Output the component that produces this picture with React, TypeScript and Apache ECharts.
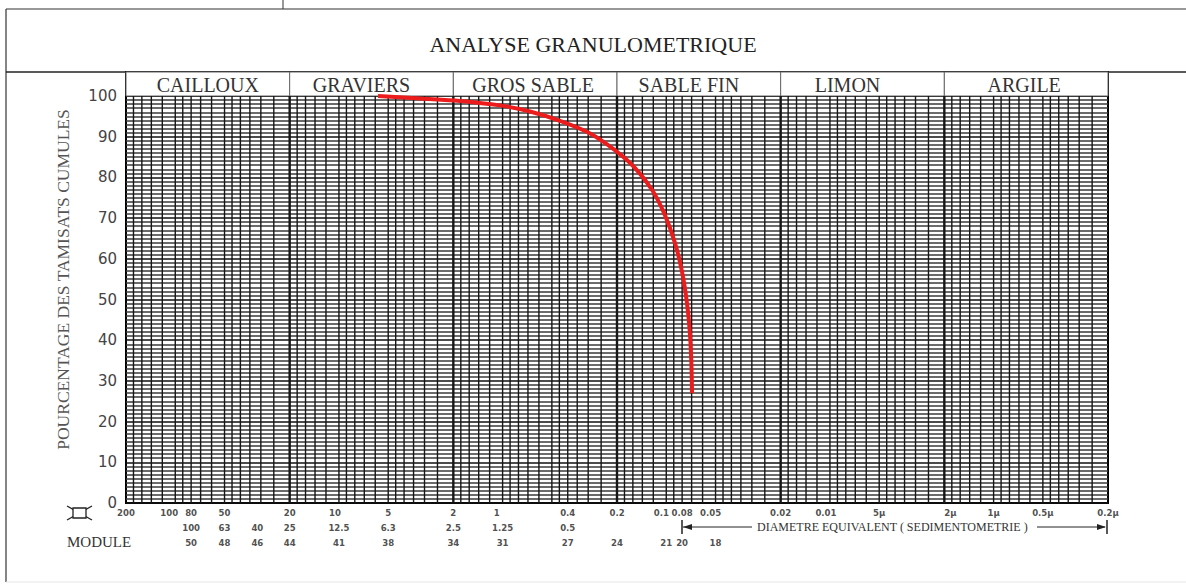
import React, { useEffect, useRef } from "react";
import * as echarts from "echarts";

// ---- data ----
const bandNames = ["CAILLOUX", "GRAVIERS", "GROS SABLE", "SABLE FIN", "LIMON", "ARGILE"];
const bandEdges = [200, 20, 2, 0.2, 0.02, 0.002, 0.0002];

const yTicks = [0, 10, 20, 30, 40, 50, 60, 70, 80, 90, 100];

// sieve sizes (mm) row
const row1Values = [200, 100, 80, 50, 20, 10, 5, 2, 1, 0.4, 0.2, 0.1, 0.08, 0.05, 0.02, 0.01, 0.005, 0.002, 0.001, 0.0005, 0.0002];
const row1Labels = ["200", "100", "80", "50", "20", "10", "5", "2", "1", "0.4", "0.2", "0.1", "0.08", "0.05", "0.02", "0.01", "5µ", "2µ", "1µ", "0.5µ", "0.2µ"];
// passoire row
const row2Values = [80, 50, 31.5, 20, 10, 5, 2, 1, 0.4];
const row2Labels = ["100", "63", "40", "25", "12.5", "6.3", "2.5", "1.25", "0.5"];
// module row
const row3Values = [80, 50, 31.5, 20, 10, 5, 2, 1, 0.4, 0.2, 0.1, 0.08, 0.05];
const row3Labels = ["50", "48", "46", "44", "41", "38", "34", "31", "27", "24", "21", "20", "18"];

// granulometric curve: diameter (mm) / cumulative passing (%)
const curveDiam = [5.77, 3.2, 1.82, 1.04, 0.68, 0.446, 0.292, 0.206, 0.155, 0.122, 0.102, 0.0885, 0.0801, 0.0747, 0.0716, 0.0702, 0.0696];
const curvePct = [100, 99.4, 98.8, 97.7, 96.2, 93.9, 90.8, 86.7, 82.3, 76.9, 70.8, 63.9, 56.8, 49.1, 41.3, 33.9, 27.0];

// log paper grid mantissas
const gridMantissas = [1, 1.2, 1.4, 1.6, 1.8, 2, 2.5, 3, 3.5, 4, 4.5, 5, 6, 7, 8, 9];
const gridDecades = [0.0001, 0.001, 0.01, 0.1, 1, 10, 100];

const SERIF = "'Liberation Serif', 'DejaVu Serif', serif";
const SANS = "'DejaVu Sans', sans-serif";
const NUMFONT = "'DejaVu Sans Condensed', 'DejaVu Sans', sans-serif";

export default function App() {
  const ref = useRef<HTMLDivElement>(null);
  useEffect(() => {
    if (!ref.current) return;
    const chart = echarts.init(ref.current, undefined, { renderer: "svg" });

    const gridVals: number[][] = [];
    gridDecades.forEach((d) =>
      gridMantissas.forEach((m) => {
        const v = +(m * d).toPrecision(3);
        if (v > 0.0002 && v < 200 && bandEdges.indexOf(v) < 0) gridVals.push([v, 1.4]);
      })
    );
    bandEdges.slice(1, -1).forEach((v) => gridVals.push([v, 2.4]));

    const bandLabelOffsets = [0, -10, -2, -10, -15, -2];
    const bandAreas = bandNames.map((n, i) => [
      { xAxis: bandEdges[i], name: n, label: { offset: [bandLabelOffsets[i], 1] } },
      { xAxis: bandEdges[i + 1] },
    ]);

    // small horizontal nudges of row-1 labels, as on the printed sheet
    const row1Nudge: Record<string, number> = { "100": -6, "10": -4, "1": -6, "0.1": -5, "0.05": -5, "0.01": -4, "2µ": 6 };

    const mkRow = (vals: number[], labels: string[], row: number, nudge?: Record<string, number>) =>
      vals.map((v, i) => {
        const o: any = { name: labels[i], value: [v, row] };
        if (nudge && nudge[labels[i]]) o.label = { offset: [nudge[labels[i]], 0] };
        return o;
      });

    const xBase = {
      type: "log",
      logBase: 10,
      min: 0.0002,
      max: 200,
      inverse: true,
      axisLine: { show: false },
      axisTick: { show: false },
      axisLabel: { show: false },
      splitLine: { show: false },
    };

    const option: any = {
      animation: false,
      backgroundColor: "#fff",
      title: {
        text: "ANALYSE GRANULOMETRIQUE",
        left: "center",
        top: 28,
        textStyle: { fontFamily: SERIF, fontSize: 22, fontWeight: "normal", color: "#222" },
      },
      grid: [
        { left: 126, right: 78, top: 96, bottom: 83, show: true, borderColor: "#000", borderWidth: 2, backgroundColor: "#fff" },
        { left: 126, right: 78, top: 72, height: 24, show: true, borderColor: "#000", borderWidth: 2 },
        { left: 126, right: 78, top: 505, height: 45 },
      ],
      xAxis: [
        { ...xBase, gridIndex: 0 },
        { ...xBase, gridIndex: 1 },
        { ...xBase, gridIndex: 2 },
      ],
      yAxis: [
        {
          gridIndex: 0,
          type: "value",
          min: yTicks[0],
          max: yTicks[yTicks.length - 1],
          interval: 10,
          name: "POURCENTAGE DES TAMISATS CUMULES",
          nameLocation: "middle",
          nameGap: 54,
          nameTextStyle: { fontFamily: SERIF, fontSize: 17.5, color: "#555", padding: [0, 0, 0, 40] },
          axisLine: { show: false },
          axisTick: { show: false },
          axisLabel: { fontFamily: SANS, fontSize: 15, color: "#444", margin: 9 },
          splitLine: { show: true, lineStyle: { color: "#111", width: 1.6 } },
          minorTick: { show: false, splitNumber: 10 },
          minorSplitLine: { show: true, lineStyle: { color: "#3a3a3a", width: 1.6 } },
        },
        { gridIndex: 1, type: "value", min: 0, max: 1, show: false },
        { gridIndex: 2, type: "value", min: 0, max: 3, inverse: true, show: false },
      ],
      series: [
        {
          name: "grid",
          type: "custom",
          xAxisIndex: 0,
          yAxisIndex: 0,
          silent: true,
          clip: false,
          z: 1,
          data: gridVals,
          encode: { x: 0, y: 1 },
          renderItem: (params: any, api: any) => {
            const v = api.value(0);
            const p0 = api.coord([v, 0]);
            const p1 = api.coord([v, 100]);
            return {
              type: "line",
              shape: { x1: p0[0], y1: p0[1], x2: p1[0], y2: p1[1] },
              style: { stroke: "#161616", lineWidth: api.value(1) },
            };
          },
        },
        {
          name: "courbe",
          type: "line",
          xAxisIndex: 0,
          yAxisIndex: 0,
          data: curveDiam.map((d, i) => [d, curvePct[i]]),
          smooth: 0.35,
          showSymbol: false,
          z: 5,
          lineStyle: { color: "#ec1c1c", width: 4 },
        },
        {
          name: "bandes",
          type: "line",
          xAxisIndex: 1,
          yAxisIndex: 1,
          data: [],
          silent: true,
          markArea: {
            silent: true,
            itemStyle: { color: "#fff", borderColor: "#666", borderWidth: 1 },
            label: {
              show: true,
              position: "inside",
              fontFamily: SERIF,
              fontSize: 20,
              color: "#333",
            },
            data: bandAreas,
          },
        },
        {
          name: "labels",
          type: "scatter",
          xAxisIndex: 2,
          yAxisIndex: 2,
          symbolSize: 1,
          silent: true,
          itemStyle: { color: "rgba(0,0,0,0)" },
          label: {
            show: true,
            position: "inside",
            formatter: "{b}",
            fontFamily: NUMFONT,
            fontWeight: "bold",
            fontSize: 9.5,
            color: "#222",
          },
          data: [
            ...mkRow(row1Values, row1Labels, 0.5, row1Nudge),
            ...mkRow(row2Values, row2Labels, 1.5),
            ...mkRow(row3Values, row3Labels, 2.5),
          ],
        },
      ],
      graphic: [
        // page frame
        { type: "line", shape: { x1: 6, y1: 9, x2: 1186, y2: 9 }, style: { stroke: "#333", lineWidth: 1.2 } },
        { type: "line", shape: { x1: 283, y1: 0, x2: 283, y2: 9 }, style: { stroke: "#333", lineWidth: 1 } },
        { type: "line", shape: { x1: 6, y1: 9, x2: 6, y2: 582 }, style: { stroke: "#333", lineWidth: 1.2 } },
        { type: "line", shape: { x1: 6, y1: 72, x2: 1186, y2: 72 }, style: { stroke: "#222", lineWidth: 1.5 } },
        { type: "line", shape: { x1: 6, y1: 582, x2: 1186, y2: 582 }, style: { stroke: "#e6e6e6", lineWidth: 1 } },
        // sieve symbol
        { type: "line", shape: { x1: 67, y1: 506, x2: 92, y2: 520 }, style: { stroke: "#222", lineWidth: 1.3 } },
        { type: "line", shape: { x1: 67, y1: 520, x2: 92, y2: 506 }, style: { stroke: "#222", lineWidth: 1.3 } },
        { type: "rect", shape: { x: 73, y: 508, width: 13, height: 10 }, style: { fill: "#fff", stroke: "#222", lineWidth: 1.3 } },
        {
          type: "text",
          x: 67,
          y: 542,
          style: { text: "MODULE", fontFamily: SERIF, fontSize: 15, fill: "#333", verticalAlign: "middle" },
        },
        // sedimentometry arrow
        { type: "line", shape: { x1: 682, y1: 520, x2: 682, y2: 534 }, style: { stroke: "#222", lineWidth: 1.5 } },
        { type: "line", shape: { x1: 683, y1: 527, x2: 752, y2: 527 }, style: { stroke: "#222", lineWidth: 1 } },
        { type: "polygon", shape: { points: [[683, 527], [692, 524], [692, 530]] }, style: { fill: "#222" } },
        {
          type: "text",
          x: 757,
          y: 527,
          style: {
            text: "DIAMETRE EQUIVALENT ( SEDIMENTOMETRIE )",
            fontFamily: SERIF,
            fontSize: 12,
            fill: "#333",
            verticalAlign: "middle",
          },
        },
        { type: "line", shape: { x1: 1037, y1: 527, x2: 1105, y2: 527 }, style: { stroke: "#222", lineWidth: 1 } },
        { type: "polygon", shape: { points: [[1106, 527], [1097, 524], [1097, 530]] }, style: { fill: "#222" } },
        { type: "line", shape: { x1: 1107, y1: 520, x2: 1107, y2: 534 }, style: { stroke: "#222", lineWidth: 1.5 } },
      ],
    };

    chart.setOption(option);
    return () => chart.dispose();
  }, []);

  return (
    <div
      ref={ref}
      style={{ position: "fixed", left: 0, top: 0, width: 1186, height: 586, background: "#fff" }}
    />
  );
}
